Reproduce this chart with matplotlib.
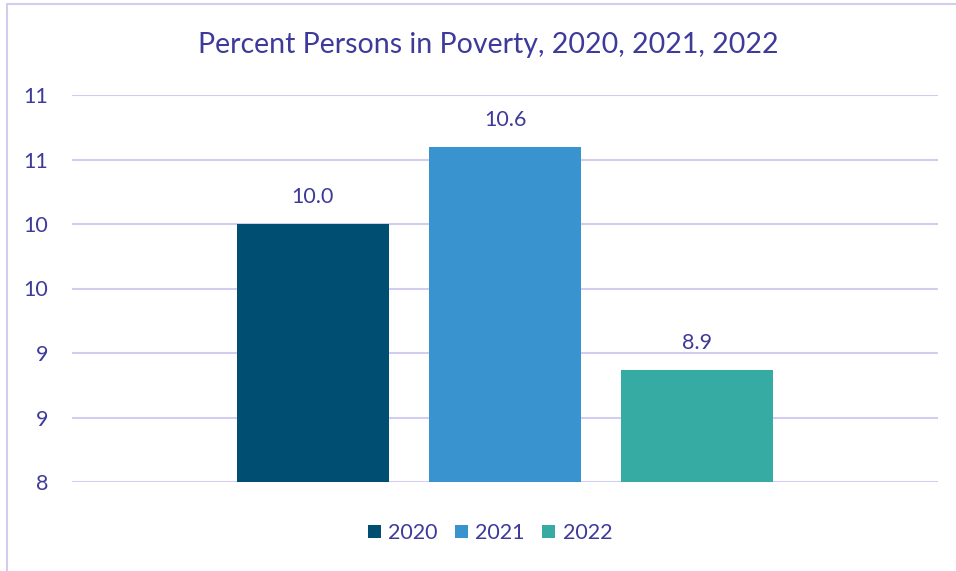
import matplotlib.pyplot as plt
from matplotlib.patches import Rectangle
from matplotlib.ticker import FuncFormatter
import math

# datos
years = ["2020", "2021", "2022"]
poverty = [10.0, 10.6, 8.87]
colores = ["#004F73", "#3893CF", "#36ABA3"]
yticks = [8, 8.5, 9, 9.5, 10, 10.5, 11]

texto = "#3E3A9A"
grid = "#D2CDEE"

plt.rcParams['font.family'] = ['Lato', 'DejaVu Sans']

fig = plt.figure(figsize=(9.56, 5.71), dpi=100)
W, H = 956, 571
ax = fig.add_axes([72 / W, 1 - 482 / H, (938 - 72) / W, (482 - 95) / H])

xs = list(range(len(years)))
barras = ax.bar(xs, [v - 8 for v in poverty], bottom=8, width=152 / 192,
                color=colores, label=years, zorder=3)
for x, v in zip(xs, poverty):
    ax.annotate("%.1f" % v, (x, v), xytext=(0, 12), textcoords="offset points",
                ha="center", va="bottom", fontsize=15.5, color=texto)

ax.set_xlim(-1.255, 3.255)
ax.set_ylim(8, 11)
ax.set_yticks(yticks)
ax.yaxis.set_major_formatter(FuncFormatter(lambda v, p: str(int(math.floor(v + 0.5)))))
ax.set_xticks([])
ax.tick_params(axis="y", length=0, pad=17, labelsize=15.5, labelcolor=texto)
ax.grid(axis="y", color=grid, linewidth=1.5, zorder=0)
for s in ax.spines.values():
    s.set_visible(False)

fig.text(488 / W, 1 - 45 / H, "Percent Persons in Poverty, 2020, 2021, 2022",
         ha="center", va="center", fontsize=20.5, color=texto)

leg = fig.legend(handles=barras, labels=years, loc="center",
                 bbox_to_anchor=(490 / W, 1 - 533 / H), ncol=3, frameon=False,
                 fontsize=15.5, handlelength=0.6, handleheight=0.6,
                 handletextpad=0.35, columnspacing=0.8)
for t in leg.get_texts():
    t.set_color(texto)

fig.patches.append(Rectangle((7 / W, -0.05), 1.1, 1.05 - 4 / H, transform=fig.transFigure,
                             fill=False, edgecolor=grid, linewidth=1.5))

fig.savefig("out.png", dpi=100)
